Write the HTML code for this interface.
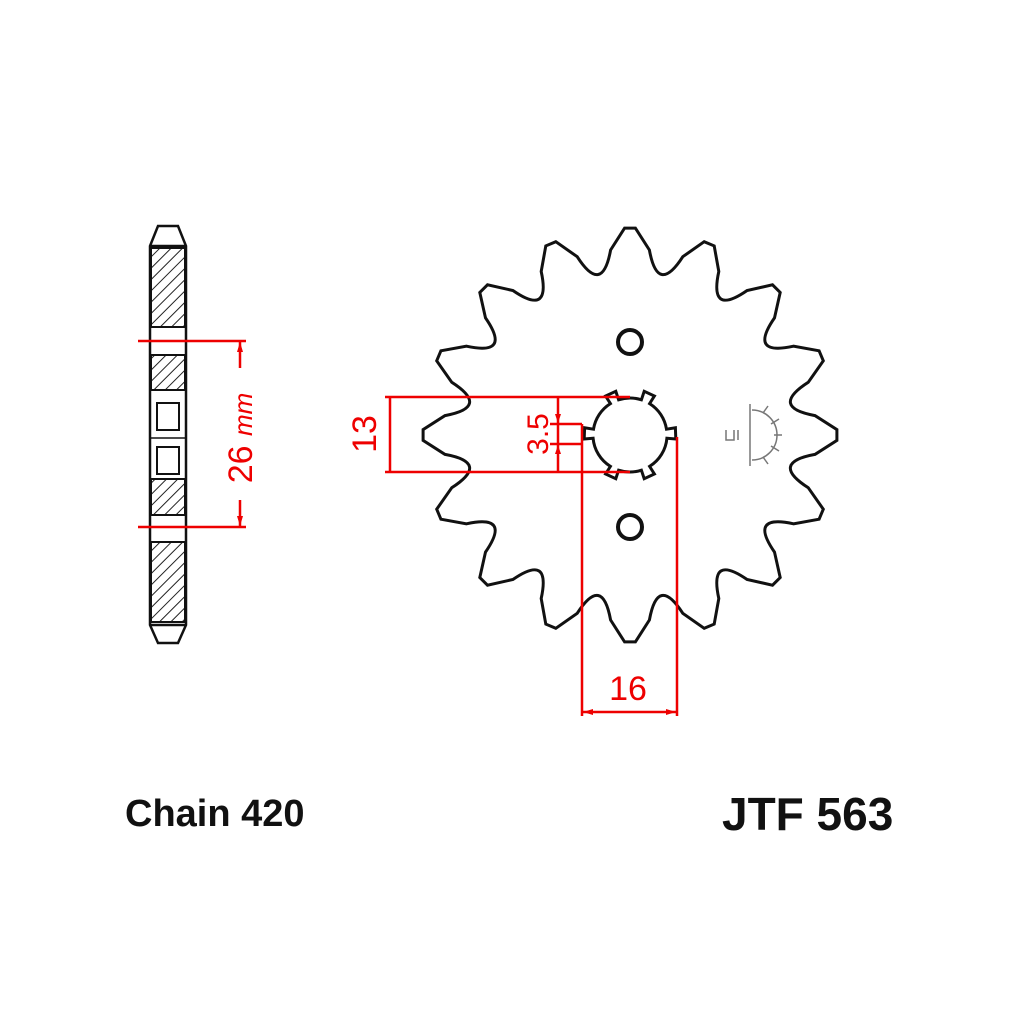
<!DOCTYPE html>
<html><head><style>
body{margin:0;background:#fff;}
svg{display:block}
text{font-family:"Liberation Sans",sans-serif;}
</style></head><body>
<svg id="s" width="1024" height="1024" viewBox="0 0 1024 1024">
<defs>
<pattern id="h" width="8" height="8" patternUnits="userSpaceOnUse" patternTransform="rotate(45)">
<rect width="8" height="8" fill="#fff"/><line x1="0" y1="0" x2="0" y2="8" stroke="#222" stroke-width="2"/>
</pattern>
</defs>
<g stroke="#111" stroke-width="2.5" fill="none">
<path d="M158,226 L178,226 L186,246 L186,625 L178,643 L158,643 L150,625 L150,246 Z" fill="#fff"/>
<rect x="151" y="248" width="34" height="79" fill="url(#h)" stroke-width="2"/>
<rect x="151" y="355" width="34" height="35" fill="url(#h)" stroke-width="2"/>
<rect x="151" y="479" width="34" height="36" fill="url(#h)" stroke-width="2"/>
<rect x="151" y="542" width="34" height="80" fill="url(#h)" stroke-width="2"/>
<line x1="150" y1="246" x2="186" y2="246"/><line x1="150" y1="625" x2="186" y2="625"/>
<rect x="157" y="403" width="22" height="27" stroke-width="2"/>
<rect x="157" y="447" width="22" height="27" stroke-width="2"/>
<line x1="150" y1="390" x2="186" y2="390" stroke-width="2"/><line x1="150" y1="479" x2="186" y2="479" stroke-width="2"/>
<line x1="150" y1="438" x2="186" y2="438" stroke-width="1.5"/>
</g>
<g stroke="#e00" stroke-width="2.5" fill="#e00">
<line x1="138" y1="341" x2="246" y2="341"/>
<line x1="138" y1="527" x2="246" y2="527"/>
<line x1="240" y1="341" x2="240" y2="368"/>
<line x1="240" y1="500" x2="240" y2="527"/>
<path d="M240,342 l-3,10 h6z M240,526 l-3,-10 h6z" stroke="none"/>
</g>
<text transform="translate(252,438) rotate(-90)" font-size="34" fill="#e00" text-anchor="middle">26 <tspan font-style="italic" font-size="26">mm</tspan></text>

<path id="sp" fill="#fff" stroke="#111" stroke-width="3"/>
<circle cx="630" cy="342" r="12" fill="none" stroke="#111" stroke-width="4"/>
<circle cx="630" cy="527" r="12" fill="none" stroke="#111" stroke-width="4"/>
<path id="bore" fill="none" stroke="#111" stroke-width="3"/>
<g stroke="#777" stroke-width="1.5" fill="none">
<line x1="750" y1="404" x2="750" y2="466"/>
<path d="M752,410 A25,25 0 0 1 752,460"/>
<line x1="763" y1="413" x2="768" y2="406"/><line x1="771" y1="424" x2="779" y2="419"/><line x1="774" y1="435" x2="782" y2="435"/><line x1="771" y1="446" x2="779" y2="451"/><line x1="763" y1="457" x2="768" y2="464"/>
<path d="M726,430 v10 h8 v-10 M738,430 v10"/>
</g>
<g stroke="#e00" stroke-width="2.5" fill="#e00">
<line x1="385" y1="397" x2="630" y2="397"/>
<line x1="385" y1="472" x2="630" y2="472"/>
<line x1="390" y1="397" x2="390" y2="472"/>
<line x1="558" y1="397" x2="558" y2="472"/>
<line x1="550" y1="424" x2="582" y2="424"/>
<line x1="550" y1="444" x2="582" y2="444"/>
<line x1="582" y1="424" x2="582" y2="716"/>
<line x1="677" y1="437" x2="677" y2="716"/>
<line x1="582" y1="712" x2="677" y2="712"/>
<path d="M558,423 l-3,-9 h6z M558,445 l-3,9 h6z M583,712 l10,-3 v6z M676,712 l-10,-3 v6z" stroke="none"/>
</g>
<text transform="translate(376,434) rotate(-90)" font-size="34" fill="#e00" text-anchor="middle">13</text>
<text transform="translate(548,434) rotate(-90)" font-size="30" fill="#e00" text-anchor="middle">3.5</text>
<text x="628" y="700" font-size="34" fill="#e00" text-anchor="middle">16</text>

<text x="125" y="826" font-size="38" font-weight="bold" fill="#111">Chain 420</text>
<text x="722" y="830" font-size="46" font-weight="bold" fill="#111">JTF 563</text>
</svg>
<script>
var cx=630,cy=435,d="";
function P(r,a){a=a*Math.PI/180;return (cx+r*Math.sin(a)).toFixed(1)+","+(cy-r*Math.cos(a)).toFixed(1);}
for(var i=0;i<16;i++){var b=i*22.5;
 if(i==0)d+="M"+P(207,b-1.5);
 d+=" L"+P(207,b+1.5)+" L"+P(186,b+6)+" Q"+P(142,b+11.25)+" "+P(186,b+16.5)+" L"+P(207,b+21);}
d+="Z";document.getElementById("sp").setAttribute("d",d);
var tabs=[-25,25,88,155,205,272],e="";
for(var k=0;k<6;k++){var a=tabs[k],n=tabs[(k+1)%6]+(k==5?360:0);
 e+=(k==0?"M":" L")+P(37,a-7)+" L"+P(46,a-7)+" L"+P(46,a+7)+" L"+P(37,a+7)+" A37,37 0 0 1 "+P(37,n-7);}
e+="Z";document.getElementById("bore").setAttribute("d",e);
</script>
</body></html>
